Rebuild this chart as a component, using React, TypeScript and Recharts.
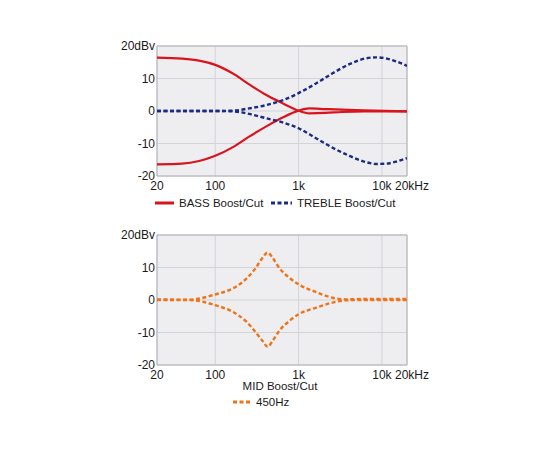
import React from "react";
import {
  LineChart,
  Line,
  XAxis,
  YAxis,
  CartesianGrid,
  ReferenceArea,
} from "recharts";

const xTicks = [20, 100, 1000, 10000, 20000];
const xTickLabels = ["20", "100", "1k", "10k", "20kHz"];
const yTicks = [-20, -10, 0, 10, 20];
const yTickLabels = ["-20", "-10", "0", "10", "20dBv"];

const bassFreq = [20, 40, 64, 100, 161, 255, 405, 642, 1000, 1340, 2100, 3300, 6000, 20000];
const bassBoost = [16.4, 16.1, 15.5, 14.2, 11.6, 8.2, 5.0, 2.4, 0.1, -0.7, -0.6, -0.3, -0.1, -0.1];
const bassCut = [-16.4, -16.2, -15.4, -13.8, -11.2, -7.9, -4.8, -2.0, 0.1, 0.8, 0.6, 0.4, 0.2, -0.1];

const trebleFreq = [20, 100, 161, 255, 405, 642, 1000, 1600, 2560, 4070, 6400, 8500, 11200, 14700, 20000];
const trebleBoost = [0, 0, 0.1, 0.8, 1.8, 3.3, 5.5, 8.4, 11.6, 14.4, 16.2, 16.5, 16.2, 15.3, 13.9];
const trebleCut = [0, 0, -0.1, -0.9, -2.2, -3.5, -5.3, -8.3, -11.3, -13.8, -15.7, -16.3, -16.2, -15.6, -14.5];

const midFreq = [20, 49, 100, 161, 233, 307, 370, 425, 487, 585, 770, 1000, 1600, 2560, 3700, 6000, 20000];
const midBoost = [0.2, 0.1, 1.7, 3.5, 6.4, 9.9, 13.0, 14.6, 13.0, 9.9, 6.9, 4.8, 2.5, 0.7, 0.2, 0.3, 0.3];
const midCut = [0, 0, -1.6, -3.6, -6.5, -10.0, -12.6, -14.4, -12.6, -9.5, -6.5, -4.4, -2.4, -0.8, -0.1, 0, 0];

const RED = "#d8141e";
const NAVY = "#1c2a80";
const ORANGE = "#ee7419";
const FONT = "'Liberation Sans', Arial, Helvetica, sans-serif";

const toRows = (freq: number[], vals: number[]) => freq.map((f, i) => ({ f, v: vals[i] }));

const XTick = (props: any) => {
  const { x, y, payload } = props;
  const idx = xTicks.indexOf(payload.value);
  const label = idx >= 0 ? xTickLabels[idx] : String(payload.value);
  const shift = payload.value === 20000 ? 5 : 0;
  return (
    <text x={x + shift} y={y} dy="0.71em" textAnchor="middle" fontSize={12} fill="#1a1a1a" fontFamily={FONT}>
      {label}
    </text>
  );
};

const YTick = (props: any) => {
  const { x, y, payload } = props;
  const idx = yTicks.indexOf(payload.value);
  const label = idx >= 0 ? yTickLabels[idx] : String(payload.value);
  return (
    <text x={x} y={y} dy="0.355em" textAnchor="end" fontSize={12} fill="#1a1a1a" fontFamily={FONT}>
      {label}
    </text>
  );
};

const Panel = ({ children }: { children: React.ReactNode }) => (
  <LineChart width={550} height={220} margin={{ top: 46, right: 143, left: 107, bottom: 14 }}>
    <CartesianGrid fill="#eeeef1" stroke="#d3d3d8" strokeWidth={1} />
    <XAxis
      dataKey="f"
      type="number"
      scale="log"
      domain={[20, 20000]}
      ticks={xTicks}
      allowDataOverflow
      axisLine={false}
      tickLine={false}
      tickSize={0}
      tickMargin={5}
      height={30}
      tick={<XTick />}
      interval={0}
    />
    <YAxis
      type="number"
      domain={[-20, 20]}
      ticks={yTicks}
      allowDataOverflow
      axisLine={false}
      tickLine={false}
      tickSize={0}
      tickMargin={2}
      width={50}
      tick={<YTick />}
      interval={0}
    />
    <ReferenceArea x1={20} x2={20000} y1={-20} y2={20} fill="none" stroke="#b3b3b8" strokeWidth={1} />
    {children}
  </LineChart>
);

const legendText: React.CSSProperties = {
  position: "absolute",
  fontSize: 11.5,
  color: "#1a1a1a",
  fontFamily: FONT,
  lineHeight: "14px",
  whiteSpace: "nowrap",
};

export default function App() {
  return (
    <div style={{ position: "absolute", left: 0, top: 0, width: 550, height: 450, background: "#fff", fontFamily: FONT }}>
      <div style={{ position: "absolute", left: 0, top: 0 }}>
        <Panel>
          <Line data={toRows(bassFreq, bassBoost)} dataKey="v" type="monotone" stroke={RED} strokeWidth={2.2} dot={false} isAnimationActive={false} />
          <Line data={toRows(bassFreq, bassCut)} dataKey="v" type="monotone" stroke={RED} strokeWidth={2.2} dot={false} isAnimationActive={false} />
          <Line data={toRows(trebleFreq, trebleBoost)} dataKey="v" type="monotone" stroke={NAVY} strokeWidth={2.4} strokeDasharray="4 2.5" dot={false} isAnimationActive={false} />
          <Line data={toRows(trebleFreq, trebleCut)} dataKey="v" type="monotone" stroke={NAVY} strokeWidth={2.4} strokeDasharray="4 2.5" dot={false} isAnimationActive={false} />
        </Panel>
      </div>
      <div style={{ position: "absolute", left: 0, top: 189 }}>
        <Panel>
          <Line data={toRows(midFreq, midBoost)} dataKey="v" type="monotone" stroke={ORANGE} strokeWidth={2.4} strokeDasharray="4 2.5" dot={false} isAnimationActive={false} />
          <Line data={toRows(midFreq, midCut)} dataKey="v" type="monotone" stroke={ORANGE} strokeWidth={2.4} strokeDasharray="4 2.5" dot={false} isAnimationActive={false} />
        </Panel>
      </div>

      <svg style={{ position: "absolute", left: 0, top: 0 }} width={550} height={450} pointerEvents="none">
        <line x1={155} x2={174} y1={203} y2={203} stroke={RED} strokeWidth={3} />
        <line x1={271} x2={292} y1={203} y2={203} stroke={NAVY} strokeWidth={3} strokeDasharray="4 2.5" />
        <line x1={233} x2={252} y1={402} y2={402} stroke={ORANGE} strokeWidth={3} strokeDasharray="4 2.5" />
      </svg>
      <div style={{ ...legendText, left: 179, top: 196 }}>BASS Boost/Cut</div>
      <div style={{ ...legendText, left: 297, top: 196 }}>TREBLE Boost/Cut</div>
      <div style={{ ...legendText, left: 240, top: 379, width: 80, textAlign: "center" }}>MID Boost/Cut</div>
      <div style={{ ...legendText, left: 256, top: 395 }}>450Hz</div>
    </div>
  );
}
